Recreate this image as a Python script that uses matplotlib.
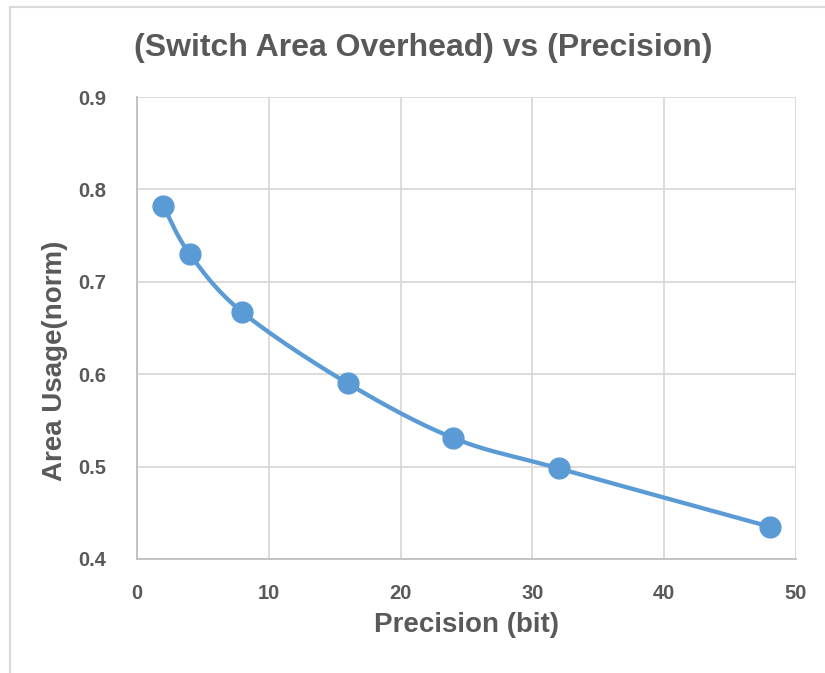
import numpy as np
import matplotlib.pyplot as plt
from matplotlib.patches import Rectangle

# Données : surcoût de surface du commutateur selon la précision
precision_bits = [2, 4, 8, 16, 24, 32, 48]
surface_norm = [0.782, 0.730, 0.667, 0.590, 0.531, 0.498, 0.435]

titre = "(Switch Area Overhead) vs (Precision)"
label_x = "Precision (bit)"
label_y = "Area Usage(norm)"

bleu = "#5B9BD5"
gris_texte = "#595959"
gris_grille = "#D9D9D9"
gris_axe = "#BFBFBF"

plt.rcParams['font.family'] = ['Liberation Sans', 'DejaVu Sans']
plt.rcParams['font.weight'] = 'bold'

fig = plt.figure(figsize=(8.25, 6.73), dpi=100)
ax = fig.add_axes([137/825, 1 - 559/673, (796 - 137)/825, (559 - 97)/673])

xmin, xmax, ymin, ymax = 0, 50, 0.4, 0.9


def lisser(xs, ys, n=40):
    # Courbe lissée façon tableur : Bézier cubique, tangentes (P[i+1]-P[i-1])/6
    w = ax.get_position().width * fig.get_figwidth()
    h = ax.get_position().height * fig.get_figheight()
    px = (np.array(xs, float) - xmin) / (xmax - xmin) * w
    py = (np.array(ys, float) - ymin) / (ymax - ymin) * h
    pts = np.column_stack([px, py])
    ext = np.vstack([pts[0], pts, pts[-1]])
    courbe = []
    t = np.linspace(0, 1, n)[:, None]
    for i in range(len(pts) - 1):
        p0, p3 = ext[i + 1], ext[i + 2]
        c1 = p0 + (ext[i + 2] - ext[i]) / 6
        c2 = p3 - (ext[i + 3] - ext[i + 1]) / 6
        seg = ((1 - t) ** 3) * p0 + 3 * ((1 - t) ** 2) * t * c1 + 3 * (1 - t) * t ** 2 * c2 + t ** 3 * p3
        courbe.append(seg)
    courbe = np.vstack(courbe)
    cx = courbe[:, 0] / w * (xmax - xmin) + xmin
    cy = courbe[:, 1] / h * (ymax - ymin) + ymin
    return cx, cy


cx, cy = lisser(precision_bits, surface_norm)
ax.plot(cx, cy, color=bleu, linewidth=3.1, solid_capstyle='round', zorder=3)
ax.plot(precision_bits, surface_norm, linestyle='none', marker='o', markersize=15,
        color=bleu, zorder=4)

ax.set_xlim(xmin, xmax)
ax.set_ylim(ymin, ymax)
ax.set_xticks(np.arange(0, 51, 10))
ax.set_yticks(np.arange(0.4, 0.91, 0.1))
ax.set_yticklabels([f"{v:.1f}" for v in np.arange(0.4, 0.91, 0.1)])
ax.grid(True, color=gris_grille, linewidth=1.3)
ax.set_axisbelow(True)
for cote in ['top', 'right']:
    ax.spines[cote].set_visible(False)
for cote in ['left', 'bottom']:
    ax.spines[cote].set_color(gris_axe)
    ax.spines[cote].set_linewidth(1.3)
ax.tick_params(length=0, labelsize=14.5, labelcolor=gris_texte)
ax.tick_params(axis='y', pad=22)
ax.tick_params(axis='x', pad=18)

fig.text(423.5/825, 1 - 48/673, titre, ha='center', va='center', fontsize=23,
         color=gris_texte, fontweight='bold')
fig.text(467/825, 1 - 625/673, label_x, ha='center', va='center', fontsize=20,
         color=gris_texte, fontweight='bold')
fig.text(55/825, 1 - 361/673, label_y, ha='center', va='center', rotation=90,
         fontsize=20, color=gris_texte, fontweight='bold')

# Bordure de la zone du graphique
fig.patches.append(Rectangle((10/825, -0.1), 1.2, 1 - 7/673 + 0.1, transform=fig.transFigure,
                             fill=False, edgecolor=gris_grille, linewidth=1.5))

fig.savefig("out.png", dpi=100)
